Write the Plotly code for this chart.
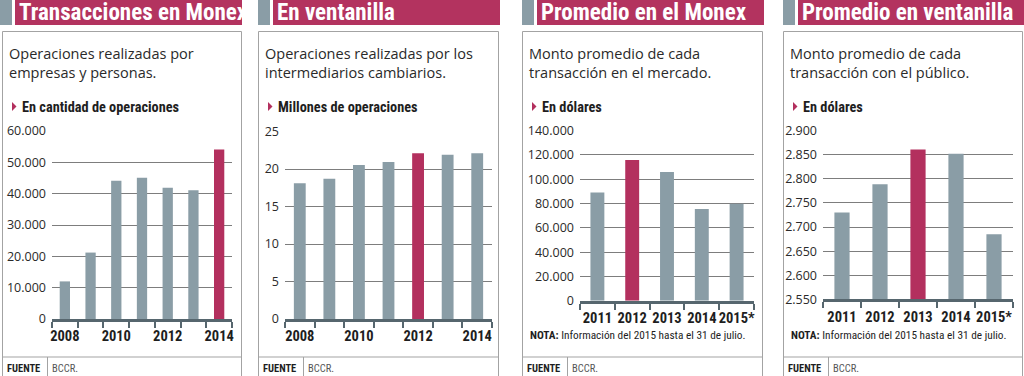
import plotly.graph_objects as go

# ---------------- data ----------------
years_a = [2008, 2009, 2010, 2011, 2012, 2013, 2014]
monex_ops = [12000, 21200, 44100, 45100, 41900, 41100, 54100]
vent_ops = [18.1, 18.7, 20.55, 20.95, 22.1, 21.9, 22.1]
years_b = ["2011", "2012", "2013", "2014", "2015*"]
monex_avg = [89200, 115800, 106000, 75500, 79900]
vent_avg = [2730, 2789, 2861, 2852, 2685]

titles = ["Transacciones en Monex", "En ventanilla", "Promedio en el Monex", "Promedio en ventanilla"]
descs = ["Operaciones realizadas por<br>empresas y personas.",
         "Operaciones realizadas por los<br>intermediarios cambiarios.",
         "Monto promedio de cada<br>transacción en el mercado.",
         "Monto promedio de cada<br>transacción con el público."]
units = ["En cantidad de operaciones", "Millones de operaciones", "En dólares", "En dólares"]
highlights = [2014, 2012, "2012", "2013"]
year_labels_a = [2008, 2010, 2012, 2014]
note_label = "NOTA:"
note_text = "Información del 2015 hasta el 31 de julio."
source_label = "FUENTE"
source_text = "BCCR."

# ---------------- style ----------------
W, H = 1024, 376
GRAY = "#8a9da6"
RED = "#b3305e"
HEAD_RED = "#b3335f"
AXIS = "#56666e"
GRID = "#7d7d7d"
BORDER = "#a3a3a3"
TXT = "#2a2a2a"
NARROW = "Roboto Condensed, Roboto, Liberation Sans, sans-serif"
BODY = "Open Sans, Noto Sans, sans-serif"


def px(x):
    return x / W


def py(y):
    return 1 - y / H


# layout geometry (pixels)
panels = [
    dict(gray=0, red=(15, 242), box=(2, 241), plot=(52, 232), ytop=131, ybot=319),
    dict(gray=258, red=(273, 500), box=(258, 498), plot=(285, 492), ytop=131.5, ybot=319),
    dict(gray=522, red=(537, 764), box=(522, 762), plot=(580, 754), ytop=130.7, ybot=300.7),
    dict(gray=783, red=(798, 1024), box=(783, 1022), plot=(823, 1013), ytop=130.7, ybot=299.3),
]

series = [
    dict(x=years_a, y=monex_ops, yr=[0, 60000], dt=10000),
    dict(x=years_a, y=vent_ops, yr=[0, 25], dt=5),
    dict(x=years_b, y=monex_avg, yr=[0, 140000], dt=20000),
    dict(x=years_b, y=vent_avg, yr=[2550, 2900], dt=50),
]

fig = go.Figure()
shapes = []
annotations = []
layout_axes = {}

for i, (p, s) in enumerate(zip(panels, series)):
    n = i + 1
    xa = "x" if n == 1 else f"x{n}"
    ya = "y" if n == 1 else f"y{n}"
    colors = [RED if v == highlights[i] else GRAY for v in s["x"]]
    numeric = isinstance(s["x"][0], (int, float))
    if numeric:
        xpos = list(s["x"])
        tickvals = year_labels_a
        ticktext = [str(v) for v in year_labels_a]
    else:
        xpos = list(range(len(s["x"])))
        tickvals = xpos
        ticktext = list(s["x"])
    rng = [xpos[0] - 0.5, xpos[-1] + 0.5]
    bounds = [v - 0.5 for v in xpos] + [xpos[-1] + 0.5]

    fig.add_trace(go.Bar(x=xpos, y=s["y"], marker=dict(color=colors, line=dict(width=0)),
                         width=0.4, xaxis=xa, yaxis=ya, showlegend=False,
                         customdata=s["x"], hovertemplate="%{customdata}: %{y}<extra></extra>"))

    dom_x = [px(p["plot"][0]), px(p["plot"][1])]
    dom_y = [py(p["ybot"]), py(p["ytop"])]
    xkey = "xaxis" if n == 1 else f"xaxis{n}"
    ykey = "yaxis" if n == 1 else f"yaxis{n}"
    layout_axes[xkey] = dict(domain=dom_x, anchor=ya, range=rng, showgrid=False, zeroline=False,
                             showline=True, linecolor=AXIS, linewidth=3,
                             tickmode="array", tickvals=tickvals, ticktext=ticktext, tickangle=0,
                             ticks="", ticklen=0, automargin=False,
                             minor=dict(tickmode="array", tickvals=bounds, ticks="outside",
                                        ticklen=6, tickwidth=1.5, tickcolor=AXIS, showgrid=False),
                             tickfont=dict(family=NARROW, size=14.5, color="#1e1e1e", weight="bold"),
                             ticklabelstandoff=2, fixedrange=True)
    layout_axes[ykey] = dict(domain=dom_y, anchor=xa, range=s["yr"], dtick=s["dt"], tick0=s["yr"][0],
                             showgrid=True, gridcolor=GRID, gridwidth=1, zeroline=False,
                             showline=False, ticks="", tickformat=",d", automargin=False,
                             tickfont=dict(family=BODY, size=12.5, color=TXT),
                             ticklabelstandoff=5, fixedrange=True)

    # ---- decorations ----
    bx0, bx1 = p["box"]
    shapes.append(dict(type="rect", xref="paper", yref="paper", x0=px(p["gray"]), x1=px(p["gray"] + 12),
                       y0=py(25), y1=py(0), fillcolor=GRAY, line=dict(width=0), layer="below"))
    shapes.append(dict(type="rect", xref="paper", yref="paper", x0=px(p["red"][0]), x1=px(p["red"][1]),
                       y0=py(25), y1=py(0), fillcolor=HEAD_RED, line=dict(width=0), layer="below"))
    shapes.append(dict(type="rect", xref="paper", yref="paper", x0=px(bx0 + 0.5), x1=px(bx1 + 0.5),
                       y0=py(390), y1=py(31.5), fillcolor="rgba(0,0,0,0)",
                       line=dict(color=BORDER, width=1), layer="below"))
    shapes.append(dict(type="line", xref="paper", yref="paper", x0=px(bx0), x1=px(bx1),
                       y0=py(357), y1=py(357), line=dict(color=BORDER, width=1.2)))
    shapes.append(dict(type="line", xref="paper", yref="paper", x0=px(bx0 + 45.5), x1=px(bx0 + 45.5),
                       y0=py(357), y1=py(380), line=dict(color=BORDER, width=1)))
    # red bullet triangle
    tx = bx0 + 10
    shapes.append(dict(type="path", xref="paper", yref="paper",
                       path=f"M {px(tx)},{py(102)} L {px(tx + 4.5)},{py(106.5)} L {px(tx)},{py(111)} Z",
                       fillcolor=RED, line=dict(width=0)))

    annotations.append(dict(text=titles[i], x=px(p["red"][0] + 2), y=py(12.5), xref="paper", yref="paper",
                            xanchor="left", yanchor="middle", showarrow=False,
                            font=dict(family=NARROW, size=23, color="white", weight="bold")))
    annotations.append(dict(text=descs[i], x=px(bx0 + 5), y=py(42), xref="paper", yref="paper",
                            xanchor="left", yanchor="top", align="left", showarrow=False,
                            font=dict(family=BODY, size=14.5, color=TXT)))
    annotations.append(dict(text=units[i], x=px(bx0 + 18), y=py(107), xref="paper", yref="paper",
                            xanchor="left", yanchor="middle", showarrow=False,
                            font=dict(family=NARROW, size=14.3, color="#1e1e1e", weight="bold")))
    annotations.append(dict(text=f"<b>{source_label}</b>", x=px(bx0 + 3), y=py(368), xref="paper", yref="paper",
                            xanchor="left", yanchor="middle", showarrow=False,
                            font=dict(family=NARROW, size=10.5, color="#1e1e1e")))
    annotations.append(dict(text=source_text, x=px(bx0 + 48), y=py(368), xref="paper", yref="paper",
                            xanchor="left", yanchor="middle", showarrow=False,
                            font=dict(family=NARROW, size=10.5, color="#555555")))
    if not numeric:
        annotations.append(dict(text=f"<b>{note_label}</b> {note_text}", x=px(bx0 + 6), y=py(335),
                                xref="paper", yref="paper", xanchor="left", yanchor="middle",
                                showarrow=False, font=dict(family=NARROW, size=11.3, color="#1e1e1e")))

fig.update_layout(
    width=W, height=H, margin=dict(l=0, r=0, t=0, b=0, pad=0), autosize=False,
    paper_bgcolor="white", plot_bgcolor="rgba(0,0,0,0)",
    separators=",.", showlegend=False,
    shapes=shapes, annotations=annotations, **layout_axes,
)

fig.write_html("out.html", config={"displayModeBar": False},
               post_script="document.body.style.margin='0';document.body.style.overflow='hidden';")
